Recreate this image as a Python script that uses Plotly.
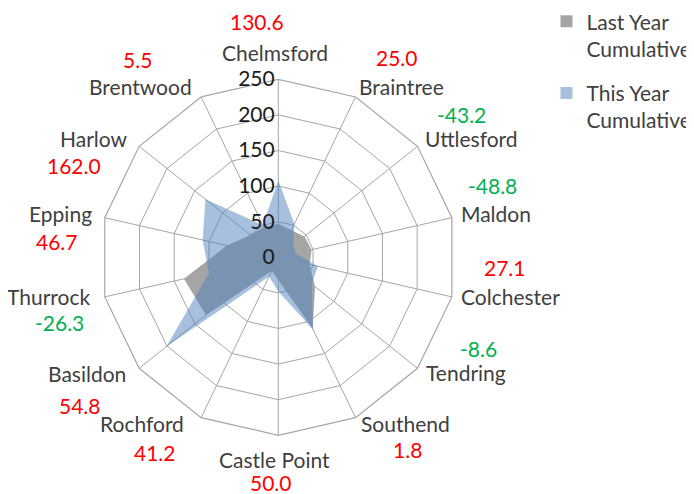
import plotly.graph_objects as go

categories = ["Chelmsford", "Braintree", "Uttlesford", "Maldon", "Colchester", "Tendring",
              "Southend", "Castle Point", "Rochford", "Basildon", "Thurrock", "Epping",
              "Harlow", "Brentwood"]
last_year = [47, 42, 47, 48, 45, 66, 111, 32, 21, 130, 136, 74, 50, 47]
this_year = [108, 52, 27, 25, 57, 60, 113, 48, 30, 201, 100, 109, 131, 50]
pct_change = [130.6, 25.0, -43.2, -48.8, 27.1, -8.6, 1.8, 50.0, 41.2, 54.8, -26.3, 46.7, 162.0, 5.5]
radial_ticks = [0, 50, 100, 150, 200, 250]

# layout: label centres in page pixels (x, y from top-left), as placed in the original chart
name_label_pos = [(275, 55), (402, 89), (472, 141), (496, 216), (510, 299), (466, 375),
                  (405, 426), (274, 462), (142, 426), (87, 376), (48, 299), (60, 216),
                  (94, 141), (140, 89)]
pct_label_pos = [(257, 25), (397, 60), (461, 117), (492, 188), (505, 270), (478, 351),
                 (407, 452), (271, 485), (155, 455), (80, 408), (59, 325), (57, 245),
                 (74, 168), (137, 62)]

FONT = "Lato"
NAME_COLOR = "#404040"
GRID = "#a6a6a6"
GREY = "#a5a5a5"
BLUE = "rgba(79,129,189,0.5)"
W, H = 686, 486   # the page body adds an 8px margin
OFF = 8
VCORR = -3        # text box vs glyph centre correction


def paper_xy(px, py):
    return (px - OFF) / W, 1 - (py - OFF + VCORR) / H


fig = go.Figure()
fig.add_trace(go.Scatterpolar(
    r=last_year + last_year[:1], theta=categories + categories[:1],
    mode="none", fill="toself", fillcolor=GREY, showlegend=False,
    name="Last Year Cumulative"))
fig.add_trace(go.Scatterpolar(
    r=this_year + this_year[:1], theta=categories + categories[:1],
    mode="none", fill="toself", fillcolor=BLUE, showlegend=False,
    name="This Year Cumulative"))
# legend swatches
fig.add_trace(go.Scatterpolar(r=[None], theta=[categories[0]], mode="markers",
                              marker=dict(symbol="square", size=12, color=GREY),
                              name="Last Year<br>Cumulative", legendgroup="a"))
fig.add_trace(go.Scatterpolar(r=[None], theta=[categories[0]], mode="markers",
                              marker=dict(symbol="square", size=12, color=BLUE),
                              name="This Year<br>Cumulative", legendgroup="b"))

for name, (px, py) in zip(categories, name_label_pos):
    x, y = paper_xy(px, py)
    fig.add_annotation(x=x, y=y, xref="paper", yref="paper", text=name, showarrow=False,
                       xanchor="center", yanchor="middle",
                       font=dict(family=FONT, size=21, color=NAME_COLOR))

for p, (px, py) in zip(pct_change, pct_label_pos):
    x, y = paper_xy(px, py)
    fig.add_annotation(x=x, y=y, xref="paper", yref="paper", text=f"{p:.1f}",
                       showarrow=False, xanchor="center", yanchor="middle",
                       font=dict(family=FONT, size=21,
                                 color="#ff0000" if p >= 0 else "#00b050"))

fig.update_layout(
    width=W, height=H,
    margin=dict(l=0, r=0, t=0, b=0, autoexpand=False),
    paper_bgcolor="white",
    font=dict(family=FONT, size=21, color=NAME_COLOR),
    polar=dict(
        domain=dict(x=[0.1346, 0.6535], y=[0.1208, 0.8533]),
        bgcolor="white",
        gridshape="linear",
        angularaxis=dict(
            type="category", categoryarray=categories, direction="clockwise", rotation=90,
            showline=True, linecolor=GRID, linewidth=1.2, showticklabels=False,
            gridcolor=GRID, gridwidth=1.2, ticks="",
        ),
        radialaxis=dict(
            range=[0, 250], tickvals=radial_ticks, angle=90, tickangle=90,
            side="counterclockwise", showline=False, ticks="",
            gridcolor=GRID, gridwidth=1.2,
            ticksuffix="<span style='color:rgba(0,0,0,0)'>0</span>",
            tickfont=dict(family=FONT, size=21, color="#1a1a1a"),
        ),
    ),
    legend=dict(x=0.785, y=1.014, xanchor="left", yanchor="top",
                font=dict(family=FONT, size=21, color=NAME_COLOR),
                traceorder="grouped", tracegroupgap=14, valign="top",
                bgcolor="rgba(0,0,0,0)"),
)

fig.write_html("out.html")
